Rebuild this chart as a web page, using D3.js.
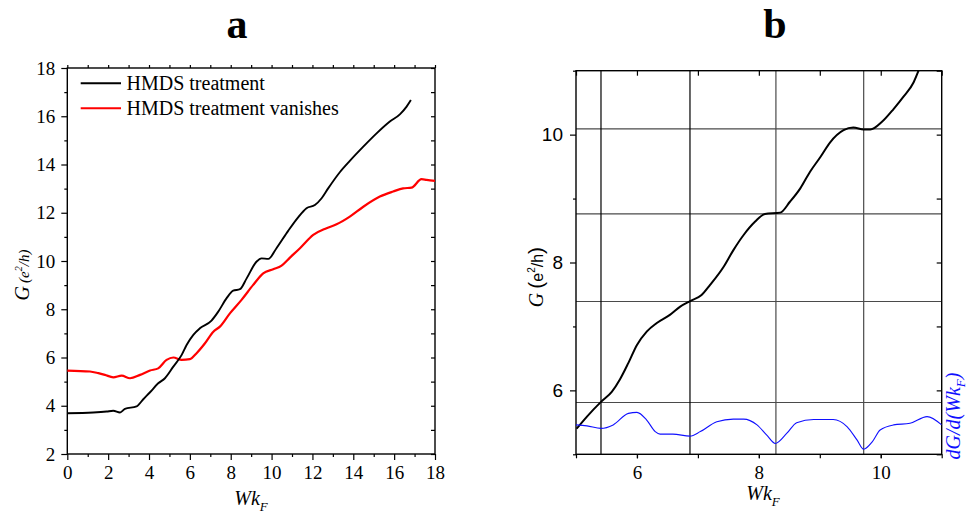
<!DOCTYPE html>
<html>
<head>
<meta charset="utf-8">
<script src="https://cdn.jsdelivr.net/npm/d3@7"></script>
<style>
  body { margin: 0; background: #fff; }
  svg { display: block; }
</style>
</head>
<body>
<svg id="fig" width="968" height="517"></svg>
<script>
// ---- Panel a: conductance G (e^2/h) versus W*kF ----
const hmdsTreated = [
  [0.00, 3.69], [1.27, 3.72], [1.93, 3.76], [2.25, 3.79], [2.58, 3.72], [2.82, 3.87],
  [3.39, 3.97], [3.72, 4.27], [4.05, 4.56], [4.45, 4.93], [4.78, 5.14], [5.19, 5.62],
  [5.60, 6.11], [5.84, 6.52], [6.17, 6.94], [6.49, 7.21], [7.06, 7.53], [7.39, 7.90],
  [7.80, 8.46], [8.12, 8.77], [8.45, 8.83], [8.78, 9.28], [9.27, 9.98], [9.51, 10.11],
  [9.84, 10.09], [10.24, 10.53], [10.82, 11.26], [11.30, 11.81], [11.71, 12.19],
  [12.12, 12.32], [12.45, 12.60], [12.77, 13.01], [13.34, 13.68], [13.83, 14.15],
  [14.49, 14.74], [15.14, 15.29], [15.79, 15.78], [16.28, 16.08], [16.61, 16.40], [16.82, 16.67]
];
const hmdsVanished = [
  [0.00, 5.46], [1.11, 5.42], [1.52, 5.35], [1.84, 5.28], [2.25, 5.18], [2.66, 5.25],
  [3.07, 5.14], [3.56, 5.28], [4.05, 5.46], [4.45, 5.55], [4.86, 5.90], [5.19, 6.00],
  [5.60, 5.90], [6.00, 5.93], [6.33, 6.18], [6.74, 6.59], [7.15, 7.07], [7.47, 7.28],
  [7.96, 7.83], [8.53, 8.39], [9.10, 9.01], [9.59, 9.49], [10.08, 9.66], [10.49, 9.81],
  [10.90, 10.14], [11.39, 10.53], [12.04, 11.08], [12.69, 11.36], [13.18, 11.52],
  [13.83, 11.84], [14.49, 12.25], [15.30, 12.67], [15.95, 12.88], [16.44, 13.01],
  [16.85, 13.04], [17.34, 13.39], [17.59, 13.36], [18.00, 13.32]
];
const seriesNamesA = ["HMDS treatment", "HMDS treatment vanishes"];
const xTicksA = [0, 2, 4, 6, 8, 10, 12, 14, 16, 18];
const yTicksA = [2, 4, 6, 8, 10, 12, 14, 16, 18];

// ---- Panel b: zoom on the plateaus, with dG/d(WkF) ----
const conductanceB = [
  [5.01, 5.40], [5.18, 5.59], [5.41, 5.82], [5.59, 5.98], [5.72, 6.17], [5.86, 6.43],
  [6.00, 6.71], [6.16, 6.92], [6.32, 7.05], [6.54, 7.18], [6.71, 7.31], [6.88, 7.40],
  [7.06, 7.49], [7.20, 7.65], [7.42, 7.93], [7.58, 8.19], [7.75, 8.43], [7.94, 8.64],
  [8.10, 8.76], [8.35, 8.78], [8.51, 8.95], [8.68, 9.16], [8.84, 9.42], [9.01, 9.65],
  [9.17, 9.88], [9.39, 10.07], [9.55, 10.11], [9.72, 10.08], [9.83, 10.08], [10.02, 10.20],
  [10.21, 10.40], [10.37, 10.59], [10.54, 10.82], [10.62, 11.00]
];
const derivativeB = [
  [5.00, 0.92], [5.18, 0.89], [5.41, 0.81], [5.61, 0.92], [5.86, 1.28], [6.00, 1.31],
  [6.16, 1.07], [6.30, 0.71], [6.38, 0.63], [6.59, 0.63], [6.87, 0.57], [7.04, 0.71],
  [7.31, 1.02], [7.58, 1.10], [7.75, 1.10], [7.97, 0.92], [8.13, 0.60], [8.27, 0.34],
  [8.46, 0.66], [8.62, 0.99], [8.90, 1.09], [9.22, 1.09], [9.45, 0.86], [9.61, 0.45],
  [9.72, 0.16], [9.86, 0.39], [9.99, 0.76], [10.21, 0.92], [10.48, 0.97], [10.76, 1.18],
  [11.00, 0.92]
];
const plateauLevels = [5.81, 7.39, 8.76, 10.09];
const plateauPositions = [5.41, 6.87, 8.28, 9.72];
const xTicksB = [6, 8, 10];
const yTicksB = [6, 8, 10];
const unitTicksB = [5, 6, 7, 8, 9, 10, 11];

const svg = d3.select("#fig");
const SERIF = "'Liberation Serif','Times New Roman',serif";
const SANS = "'Liberation Sans',Arial,sans-serif";
const intFmt = d3.format("d");

function range(a, b, s) { return d3.range(a, b + s / 2, s); }

function styleAxis(g, font, size) {
  g.select(".domain").remove();
  g.selectAll(".tick line").attr("stroke", "#000").attr("stroke-width", 1.2);
  g.selectAll("text").attr("font-family", font).attr("font-size", size).attr("fill", "#000");
}

// Lays out a rotated label piece by piece (measured), centred on (cx, cy).
function rotatedLabel(parent, cx, cy, pieces, color) {
  const g = parent.append("g").attr("transform", `translate(${cx},${cy}) rotate(-90)`);
  let x = 0;
  pieces.forEach(p => {
    const t = g.append("text").attr("x", x + (p.dx || 0)).attr("y", p.dy || 0)
      .attr("font-family", p.font).attr("font-size", p.size)
      .attr("font-style", p.italic ? "italic" : "normal")
      .attr("fill", color || "#000").text(p.text);
    x += (p.dx || 0) + t.node().getComputedTextLength();
  });
  g.selectAll("text").attr("x", function () { return +d3.select(this).attr("x") - x / 2; });
  return g;
}

// ================= Panel a =================
const xA = d3.scaleLinear().domain([0, 18]).range([67.3, 435]);
const yA = d3.scaleLinear().domain([2, 18]).range([454, 68]);
const gA = svg.append("g");

gA.append("g").attr("transform", `translate(${xA(0)},0)`)
  .call(d3.axisLeft(yA).tickValues(yTicksA).tickSize(6).tickPadding(6).tickFormat(intFmt))
  .call(g => styleAxis(g, SERIF, 19));
gA.append("g").attr("transform", `translate(${xA(0)},0)`)
  .call(d3.axisLeft(yA).tickValues(range(3, 17, 2)).tickSize(3).tickFormat(""))
  .call(g => styleAxis(g, SERIF, 19));
gA.append("g").attr("transform", `translate(0,${yA(2)})`)
  .call(d3.axisBottom(xA).tickValues(xTicksA).tickSize(6).tickPadding(6).tickFormat(intFmt))
  .call(g => styleAxis(g, SERIF, 19));
gA.append("g").attr("transform", `translate(0,${yA(2)})`)
  .call(d3.axisBottom(xA).tickValues(range(1, 17, 2)).tickSize(3).tickFormat(""))
  .call(g => styleAxis(g, SERIF, 19));
gA.append("g").attr("transform", `translate(0,${yA(18)})`)
  .call(d3.axisTop(xA).tickValues(range(0, 18, 1)).tickSize(3).tickFormat(""))
  .call(g => styleAxis(g, SERIF, 19));
gA.append("g").attr("transform", `translate(${xA(18)},0)`)
  .call(d3.axisRight(yA).tickValues(range(2, 18, 1)).tickSize(-4).tickFormat(""))
  .call(g => styleAxis(g, SERIF, 19));
gA.append("rect")
  .attr("x", xA(0)).attr("y", yA(18))
  .attr("width", xA(18) - xA(0)).attr("height", yA(2) - yA(18))
  .attr("fill", "none").attr("stroke", "#000").attr("stroke-width", 1.4);

const lineA = d3.line().x(d => xA(d[0])).y(d => yA(d[1])).curve(d3.curveMonotoneX);
gA.append("path").datum(hmdsVanished).attr("d", lineA)
  .attr("fill", "none").attr("stroke", "#ff0000").attr("stroke-width", 2.2);
gA.append("path").datum(hmdsTreated).attr("d", lineA)
  .attr("fill", "none").attr("stroke", "#000").attr("stroke-width", 1.9);

// legend
const legendColors = ["#000", "#ff0000"];
seriesNamesA.forEach((name, i) => {
  const ly = 83.3 + i * 25;
  gA.append("line").attr("x1", 80.7).attr("x2", 121).attr("y1", ly).attr("y2", ly)
    .attr("stroke", legendColors[i]).attr("stroke-width", 2);
  gA.append("text").attr("x", 126.5).attr("y", ly + 6.8)
    .attr("font-family", SERIF).attr("font-size", 20).text(name);
});

// axis titles
gA.append("text").attr("x", 251).attr("y", 505).attr("text-anchor", "middle")
  .attr("font-family", SERIF).attr("font-style", "italic").attr("font-size", 20)
  .call(t => {
    t.append("tspan").text("Wk");
    t.append("tspan").attr("font-size", 13).attr("dy", 6).text("F");
  });
rotatedLabel(gA, 29, 275, [
  { text: "G", font: SERIF, size: 20, italic: true },
  { text: "(e", font: SERIF, size: 15, italic: true, dx: 3 },
  { text: "2", font: SERIF, size: 10, italic: true, dy: -7 },
  { text: "/h)", font: SERIF, size: 15, italic: true }
]);
svg.append("text").attr("x", 237).attr("y", 37.5).attr("text-anchor", "middle")
  .attr("font-family", SERIF).attr("font-weight", "bold").attr("font-size", 42).text("a");

// ================= Panel b =================
const xB = d3.scaleLinear().domain([5, 11]).range([576, 941.7]);
const yB = d3.scaleLinear().domain([5, 11]).range([454.3, 70.7]);
const yD = d3.scaleLinear().domain([0, 12]).range([454.3, 70.7]);
const gB = svg.append("g");

// plateau guide lines
gB.selectAll("line.hgrid").data(plateauLevels).join("line").attr("class", "hgrid")
  .attr("x1", xB(5)).attr("x2", xB(11)).attr("y1", d => yB(d)).attr("y2", d => yB(d))
  .attr("stroke", "#4a4a4a").attr("stroke-width", 1.2);
gB.selectAll("line.vgrid").data(plateauPositions).join("line").attr("class", "vgrid")
  .attr("x1", d => xB(d)).attr("x2", d => xB(d)).attr("y1", yB(5)).attr("y2", yB(11))
  .attr("stroke", (d, i) => i < 2 ? "#000" : "#4a4a4a").attr("stroke-width", 1.2);

gB.append("g").attr("transform", `translate(${xB(5)},0)`)
  .call(d3.axisLeft(yB).tickValues(yTicksB).tickSize(6).tickPadding(7).tickFormat(intFmt))
  .call(g => styleAxis(g, SANS, 19));
gB.append("g").attr("transform", `translate(${xB(5)},0)`)
  .call(d3.axisLeft(yB).tickValues([5, 7, 9, 11]).tickSize(3).tickFormat(""))
  .call(g => styleAxis(g, SANS, 19));
gB.append("g").attr("transform", `translate(0,${yB(5)})`)
  .call(d3.axisBottom(xB).tickValues(xTicksB).tickSize(4).tickPadding(7).tickFormat(intFmt))
  .call(g => styleAxis(g, SERIF, 19));
gB.append("g").attr("transform", `translate(0,${yB(5)})`)
  .call(d3.axisBottom(xB).tickValues(unitTicksB).tickSize(4).tickFormat(""))
  .call(g => styleAxis(g, SERIF, 19));
gB.append("g").attr("transform", `translate(0,${yB(11)})`)
  .call(d3.axisTop(xB).tickValues(unitTicksB).tickSize(-5).tickFormat(""))
  .call(g => styleAxis(g, SERIF, 19));
gB.append("g").attr("transform", `translate(${xB(11)},0)`)
  .call(d3.axisRight(yB).tickValues(unitTicksB).tickSize(-5).tickFormat(""))
  .call(g => styleAxis(g, SERIF, 19));
gB.append("rect")
  .attr("x", xB(5)).attr("y", yB(11))
  .attr("width", xB(11) - xB(5)).attr("height", yB(5) - yB(11))
  .attr("fill", "none").attr("stroke", "#000").attr("stroke-width", 1.4);

svg.append("clipPath").attr("id", "clipB").append("rect")
  .attr("x", xB(5)).attr("y", yB(11)).attr("width", xB(11) - xB(5)).attr("height", yB(5) - yB(11));

const lineB = d3.line().x(d => xB(d[0])).y(d => yB(d[1])).curve(d3.curveMonotoneX);
const lineD = d3.line().x(d => xB(d[0])).y(d => yD(d[1])).curve(d3.curveMonotoneX);
gB.append("path").datum(conductanceB).attr("d", lineB).attr("clip-path", "url(#clipB)")
  .attr("fill", "none").attr("stroke", "#000").attr("stroke-width", 2);
gB.append("path").datum(derivativeB).attr("d", lineD).attr("clip-path", "url(#clipB)")
  .attr("fill", "none").attr("stroke", "#1010ff").attr("stroke-width", 1.1);

gB.append("text").attr("x", 763).attr("y", 500).attr("text-anchor", "middle")
  .attr("font-family", SERIF).attr("font-style", "italic").attr("font-size", 20)
  .call(t => {
    t.append("tspan").text("Wk");
    t.append("tspan").attr("font-size", 13).attr("dy", 6).text("F");
  });
rotatedLabel(gB, 543, 277, [
  { text: "G", font: SERIF, size: 20, italic: true },
  { text: "(", font: SANS, size: 21, dx: 4 },
  { text: "e", font: SANS, size: 16 },
  { text: "2", font: SANS, size: 10, dy: -8 },
  { text: "/h", font: SANS, size: 16 },
  { text: ")", font: SANS, size: 21 }
]);
rotatedLabel(gB, 960, 416, [
  { text: "dG/d(Wk", font: SERIF, size: 20, italic: true },
  { text: "F", font: SERIF, size: 13, italic: true, dy: 5 },
  { text: ")", font: SERIF, size: 20, italic: true }
], "#1010ff");
svg.append("text").attr("x", 775).attr("y", 37.5).attr("text-anchor", "middle")
  .attr("font-family", SERIF).attr("font-weight", "bold").attr("font-size", 42).text("b");
</script>
</body>
</html>
